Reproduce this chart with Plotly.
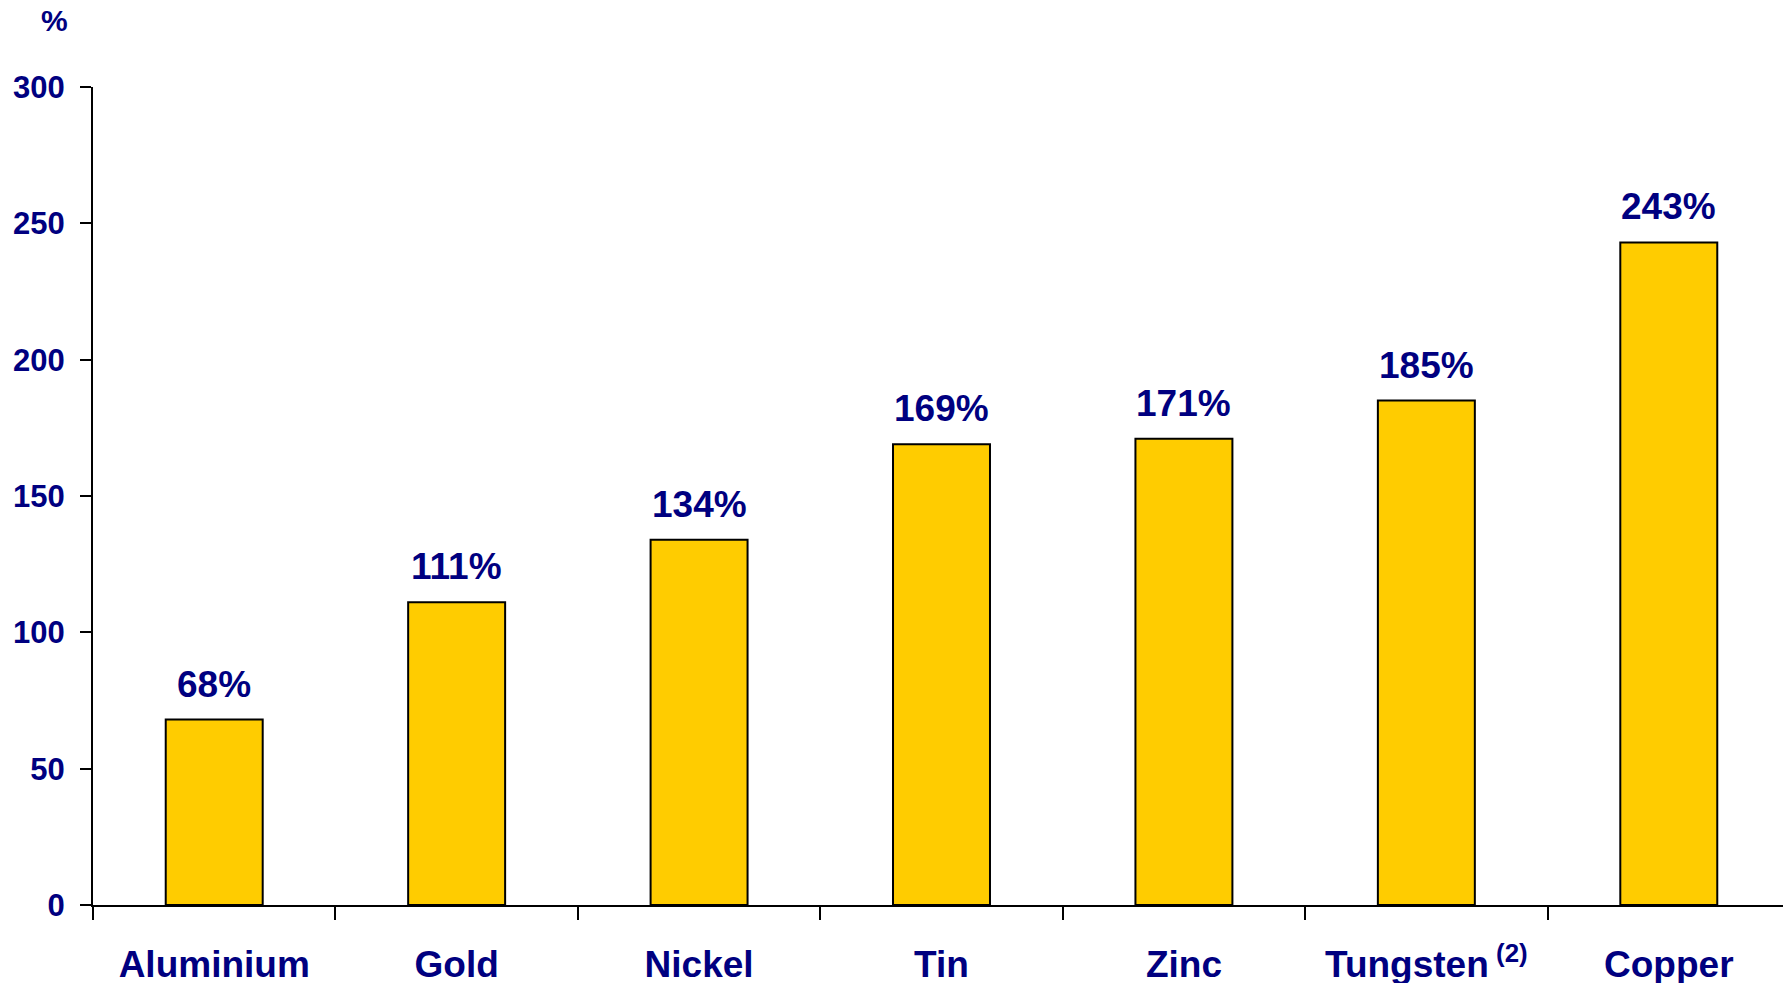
import plotly.graph_objects as go

metals = ["Aluminium", "Gold", "Nickel", "Tin", "Zinc", "Tungsten<sup> (2)</sup>", "Copper"]
growth = [68, 111, 134, 169, 171, 185, 243]
labels = ["68%", "111%", "134%", "169%", "171%", "185%", "243%"]
y_ticks = [0, 50, 100, 150, 200, 250, 300]

navy = "#000080"
font_name = "Liberation Sans, Arial, sans-serif"

fig = go.Figure()

fig.add_trace(go.Bar(
    x=metals,
    y=growth,
    marker=dict(color="#FFCC00", line=dict(color="black", width=2)),
    hoverinfo="x+y",
))

# value labels above each bar
for m, v, t in zip(metals, growth, labels):
    fig.add_annotation(
        x=m, y=v, text=t, showarrow=False,
        yanchor="bottom", yshift=13,
        font=dict(family=font_name, size=37, color=navy, weight="bold"),
    )

# unit label at top left
fig.add_annotation(
    xref="paper", yref="paper", x=-0.0224, y=1.081,
    text="%", showarrow=False, xanchor="center", yanchor="middle",
    font=dict(family=font_name, size=30, color=navy, weight="bold"),
)

# page body adds an 8px offset, so the figure is sized to fit the window
fig.update_layout(
    width=1783,
    height=975,
    margin=dict(l=85, r=1, t=79, b=78),
    paper_bgcolor="white",
    plot_bgcolor="white",
    bargap=0.6,
    showlegend=False,
)

fig.update_xaxes(
    showline=True, linecolor="black", linewidth=2,
    ticks="outside", tickson="boundaries", ticklen=13, tickwidth=2, tickcolor="black",
    showgrid=False, zeroline=False, automargin=False,
    tickfont=dict(family=font_name, size=37, color=navy, weight="bold"),
    ticklabelstandoff=26,
)

fig.update_yaxes(
    range=[0, 300], tickvals=y_ticks,
    showline=True, linecolor="black", linewidth=2,
    ticks="outside", ticklen=11, tickwidth=2, tickcolor="black",
    showgrid=False, zeroline=False, automargin=False,
    tickfont=dict(family=font_name, size=31, color=navy, weight="bold"),
    ticklabelstandoff=9,
)

fig.write_html("out.html")
